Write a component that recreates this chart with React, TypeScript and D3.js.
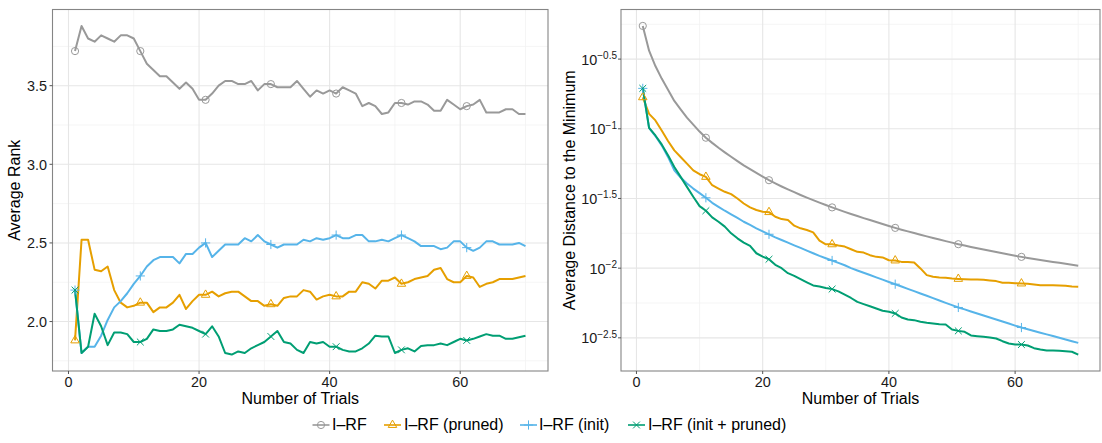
import React from "react";
import * as d3 from "d3";

// ---------- data ----------
const trials = Array.from({ length: 70 }, (_, i) => i + 1);
const markerTrials = [1, 11, 21, 31, 41, 51, 61];

const seriesNames = ["I–RF", "I–RF (pruned)", "I–RF (init)", "I–RF (init + pruned)"];
const seriesColors = ["#999999", "#E69F00", "#56B4E9", "#009E73"];
const seriesShapes = ["circle", "triangle", "plus", "cross"];

// Left panel: average rank
const rankIRF = [
  3.72, 3.88, 3.80, 3.78, 3.82, 3.80, 3.78, 3.82, 3.82, 3.80,
  3.72, 3.64, 3.60, 3.56, 3.56, 3.52, 3.48, 3.52, 3.48, 3.41,
  3.41, 3.45, 3.50, 3.53, 3.53, 3.51, 3.51, 3.53, 3.47, 3.51,
  3.51, 3.49, 3.49, 3.49, 3.53, 3.48, 3.43, 3.47, 3.45, 3.47,
  3.45, 3.49, 3.47, 3.45, 3.37, 3.39, 3.37, 3.32, 3.33, 3.39,
  3.39, 3.38, 3.40, 3.40, 3.38, 3.34, 3.34, 3.41, 3.38, 3.35,
  3.37, 3.38, 3.41, 3.33, 3.33, 3.33, 3.35, 3.35, 3.32, 3.32,
];
const rankPruned = [
  1.88, 2.52, 2.52, 2.33, 2.32, 2.35, 2.20, 2.12, 2.09, 2.10,
  2.12, 2.12, 2.06, 2.09, 2.09, 2.12, 2.17, 2.08, 2.13, 2.17,
  2.17, 2.19, 2.16, 2.18, 2.19, 2.19, 2.16, 2.13, 2.13, 2.10,
  2.11, 2.10, 2.15, 2.16, 2.16, 2.20, 2.19, 2.14, 2.16, 2.17,
  2.16, 2.16, 2.19, 2.19, 2.25, 2.24, 2.21, 2.26, 2.26, 2.28,
  2.24, 2.25, 2.27, 2.28, 2.29, 2.33, 2.34, 2.27, 2.25, 2.25,
  2.29, 2.28, 2.22, 2.24, 2.25, 2.27, 2.27, 2.27, 2.28, 2.29,
];
const rankInit = [
  2.20, 1.80, 1.84, 1.84, 1.91, 2.01, 2.09, 2.13, 2.18, 2.24,
  2.29, 2.35, 2.39, 2.41, 2.41, 2.41, 2.37, 2.43, 2.43, 2.47,
  2.50, 2.41, 2.45, 2.49, 2.49, 2.49, 2.53, 2.51, 2.55, 2.51,
  2.49, 2.47, 2.49, 2.49, 2.49, 2.52, 2.51, 2.53, 2.52, 2.53,
  2.55, 2.53, 2.53, 2.55, 2.55, 2.51, 2.51, 2.52, 2.51, 2.53,
  2.55, 2.53, 2.51, 2.48, 2.48, 2.48, 2.46, 2.47, 2.51, 2.51,
  2.47, 2.45, 2.47, 2.51, 2.51, 2.49, 2.49, 2.49, 2.50, 2.48,
];
const rankInitPruned = [
  2.20, 1.80, 1.84, 2.05, 1.97, 1.85, 1.93, 1.93, 1.92, 1.87,
  1.87, 1.89, 1.95, 1.94, 1.94, 1.95, 1.98, 1.97, 1.96, 1.94,
  1.92, 1.97, 1.905, 1.80, 1.79, 1.81, 1.80, 1.83, 1.85, 1.87,
  1.905, 1.94, 1.87, 1.86, 1.82, 1.80, 1.87, 1.86, 1.87, 1.84,
  1.84, 1.82, 1.81, 1.81, 1.83, 1.86, 1.91, 1.905, 1.905, 1.80,
  1.82, 1.83, 1.81, 1.845, 1.85, 1.85, 1.86, 1.85, 1.87, 1.89,
  1.88, 1.89, 1.905, 1.92, 1.91, 1.91, 1.89, 1.89, 1.90, 1.91,
];

// Right panel: log10 of the average distance to the minimum
const distLogIRF = [
  -0.262, -0.44, -0.55, -0.64, -0.72, -0.80, -0.86, -0.92, -0.97, -1.02,
  -1.064, -1.101, -1.136, -1.169, -1.201, -1.232, -1.262, -1.290, -1.317, -1.343,
  -1.369, -1.392, -1.414, -1.435, -1.455, -1.475, -1.494, -1.512, -1.530, -1.547,
  -1.564, -1.580, -1.596, -1.611, -1.626, -1.641, -1.655, -1.669, -1.683, -1.697,
  -1.711, -1.724, -1.736, -1.748, -1.760, -1.772, -1.784, -1.795, -1.806, -1.817,
  -1.828, -1.838, -1.848, -1.857, -1.866, -1.875, -1.884, -1.893, -1.902, -1.911,
  -1.919, -1.927, -1.934, -1.941, -1.948, -1.955, -1.962, -1.969, -1.976, -1.983,
];
const distLogPruned = [
  -0.774, -0.893, -0.940, -1.012, -1.088, -1.155, -1.202, -1.250, -1.298, -1.326,
  -1.345, -1.405, -1.429, -1.452, -1.469, -1.500, -1.536, -1.564, -1.583, -1.595,
  -1.598, -1.631, -1.648, -1.655, -1.695, -1.714, -1.726, -1.743, -1.802, -1.829,
  -1.829, -1.838, -1.845, -1.864, -1.883, -1.888, -1.907, -1.919, -1.923, -1.943,
  -1.945, -1.955, -1.955, -1.959, -2.002, -2.050, -2.062, -2.067, -2.069, -2.074,
  -2.077, -2.079, -2.081, -2.081, -2.084, -2.089, -2.093, -2.105, -2.105, -2.108,
  -2.110, -2.112, -2.117, -2.122, -2.122, -2.122, -2.124, -2.127, -2.132, -2.134,
];
const distLogInit = [
  -0.71, -0.993, -1.052, -1.119, -1.202, -1.298, -1.350, -1.393, -1.429, -1.462,
  -1.495, -1.531, -1.560, -1.588, -1.614, -1.640, -1.667, -1.690, -1.714, -1.736,
  -1.757, -1.779, -1.798, -1.817, -1.836, -1.855, -1.874, -1.893, -1.912, -1.929,
  -1.945, -1.962, -1.979, -2.000, -2.017, -2.033, -2.049, -2.066, -2.082, -2.099,
  -2.115, -2.132, -2.149, -2.165, -2.182, -2.198, -2.215, -2.232, -2.249, -2.265,
  -2.282, -2.296, -2.311, -2.325, -2.340, -2.354, -2.368, -2.383, -2.397, -2.412,
  -2.426, -2.438, -2.451, -2.463, -2.475, -2.487, -2.499, -2.512, -2.524, -2.536,
];
const distLogInitPruned = [
  -0.71, -0.993, -1.048, -1.112, -1.190, -1.274, -1.345, -1.417, -1.488, -1.555,
  -1.588, -1.636, -1.667, -1.702, -1.750, -1.786, -1.817, -1.840, -1.893, -1.917,
  -1.936, -1.976, -2.000, -2.036, -2.055, -2.079, -2.102, -2.124, -2.131, -2.143,
  -2.150, -2.167, -2.190, -2.214, -2.242, -2.258, -2.273, -2.289, -2.306, -2.313,
  -2.325, -2.354, -2.368, -2.373, -2.385, -2.392, -2.397, -2.402, -2.404, -2.440,
  -2.450, -2.457, -2.483, -2.488, -2.493, -2.498, -2.505, -2.524, -2.541, -2.548,
  -2.548, -2.555, -2.574, -2.584, -2.591, -2.591, -2.593, -2.596, -2.600, -2.620,
];

const trialTicks = [0, 20, 40, 60];
const trialMinorTicks = [10, 30, 50, 70];
const rankTicks = [2.0, 2.5, 3.0, 3.5];
const rankMinorTicks = [1.75, 2.25, 2.75, 3.25, 3.75];
const distTickExps = [-2.5, -2, -1.5, -1, -0.5];
const distMinorTickExps = [-2.25, -1.75, -1.25, -0.75, -0.25];

// ---------- styling ----------
const FONT = "'Liberation Sans', Arial, Helvetica, sans-serif";
const PANEL_TOP = 9.5;
const PANEL_BOTTOM = 371;
const BORDER = "#858585";
const GRID_MAJOR = "#e6e6e6";
const GRID_MINOR = "#f3f3f3";
const TEXT = "#1a1a1a";
const TICK_FS = 14.4;
const TITLE_FS = 16;

function Marker({ shape, x, y, color }: { shape: string; x: number; y: number; color: string }) {
  const sw = 1;
  if (shape === "circle") {
    return <circle cx={x} cy={y} r={3.6} fill="none" stroke={color} strokeWidth={sw} />;
  }
  if (shape === "triangle") {
    const r = 4.9;
    const pts = [
      [x, y - r],
      [x + r * 0.866, y + r * 0.5],
      [x - r * 0.866, y + r * 0.5],
    ];
    return <polygon points={pts.map((p) => p.join(",")).join(" ")} fill="none" stroke={color} strokeWidth={sw} />;
  }
  if (shape === "plus") {
    const a = 4.6;
    return (
      <g stroke={color} strokeWidth={sw}>
        <line x1={x - a} y1={y} x2={x + a} y2={y} />
        <line x1={x} y1={y - a} x2={x} y2={y + a} />
      </g>
    );
  }
  const a = 3.4;
  return (
    <g stroke={color} strokeWidth={sw}>
      <line x1={x - a} y1={y - a} x2={x + a} y2={y + a} />
      <line x1={x - a} y1={y + a} x2={x + a} y2={y - a} />
    </g>
  );
}

function expandedExtent(values: number[]): [number, number] {
  const [lo, hi] = d3.extent(values) as [number, number];
  const pad = (hi - lo) * 0.05;
  return [lo - pad, hi + pad];
}

const xDomain = expandedExtent(trials);

function Panel({
  left,
  right,
  series,
  yScale,
  yMajor,
  yMinor,
  yLabel,
  yTitle,
  yTitleX,
}: {
  left: number;
  right: number;
  series: number[][];
  yScale: (v: number) => number;
  yMajor: number[];
  yMinor: number[];
  yLabel: (v: number, y: number, x: number) => React.ReactNode;
  yTitle: string;
  yTitleX: number;
}) {
  const x = d3.scaleLinear().domain(xDomain).range([left, right]);
  const line = d3
    .line<number>()
    .x((_, i) => x(trials[i]))
    .y((d) => yScale(d));
  const midY = (PANEL_TOP + PANEL_BOTTOM) / 2;
  return (
    <g>
      <rect x={left} y={PANEL_TOP} width={right - left} height={PANEL_BOTTOM - PANEL_TOP} fill="#fff" />
      {yMinor.map((v) => (
        <line key={"ym" + v} x1={left} x2={right} y1={yScale(v)} y2={yScale(v)} stroke={GRID_MINOR} strokeWidth={0.8} />
      ))}
      {trialMinorTicks.map((v) => (
        <line key={"xm" + v} x1={x(v)} x2={x(v)} y1={PANEL_TOP} y2={PANEL_BOTTOM} stroke={GRID_MINOR} strokeWidth={0.8} />
      ))}
      {yMajor.map((v) => (
        <line key={"yM" + v} x1={left} x2={right} y1={yScale(v)} y2={yScale(v)} stroke={GRID_MAJOR} strokeWidth={1.1} />
      ))}
      {trialTicks.map((v) => (
        <line key={"xM" + v} x1={x(v)} x2={x(v)} y1={PANEL_TOP} y2={PANEL_BOTTOM} stroke={GRID_MAJOR} strokeWidth={1.1} />
      ))}
      <g clipPath={undefined}>
        {series.map((s, si) => (
          <path key={"l" + si} d={line(s) || ""} fill="none" stroke={seriesColors[si]} strokeWidth={2} strokeLinejoin="round" />
        ))}
        {series.map((s, si) =>
          markerTrials.map((t) => (
            <Marker key={"m" + si + "-" + t} shape={seriesShapes[si]} x={x(t)} y={yScale(s[t - 1])} color={seriesColors[si]} />
          ))
        )}
      </g>
      <rect x={left} y={PANEL_TOP} width={right - left} height={PANEL_BOTTOM - PANEL_TOP} fill="none" stroke={BORDER} strokeWidth={1.1} />
      {/* y ticks */}
      {yMajor.map((v) => (
        <g key={"yt" + v}>
          <line x1={left - 3} x2={left} y1={yScale(v)} y2={yScale(v)} stroke="#555" strokeWidth={1} />
          {yLabel(v, yScale(v), left - 5.5)}
        </g>
      ))}
      {/* x ticks */}
      {trialTicks.map((v) => (
        <g key={"xt" + v}>
          <line x1={x(v)} x2={x(v)} y1={PANEL_BOTTOM} y2={PANEL_BOTTOM + 3} stroke="#555" strokeWidth={1} />
          <text x={x(v)} y={387.2} textAnchor="middle" fontSize={TICK_FS} fill={TEXT} fontFamily={FONT}>
            {String(v)}
          </text>
        </g>
      ))}
      <text x={(left + right) / 2} y={404} textAnchor="middle" fontSize={TITLE_FS} fill="#000" fontFamily={FONT}>
        Number of Trials
      </text>
      <text
        x={yTitleX}
        y={midY}
        transform={`rotate(-90 ${yTitleX} ${midY})`}
        textAnchor="middle"
        fontSize={TITLE_FS}
        fill="#000"
        fontFamily={FONT}
      >
        {yTitle}
      </text>
    </g>
  );
}

export default function App() {
  const rankSeries = [rankIRF, rankPruned, rankInit, rankInitPruned];
  const distSeries = [distLogIRF, distLogPruned, distLogInit, distLogInitPruned].map((s) => s.map((e) => Math.pow(10, e)));

  const rankDomain = expandedExtent(rankSeries.flat());
  const yRank = d3.scaleLinear().domain(rankDomain).range([PANEL_BOTTOM, PANEL_TOP]);

  const logDomain = expandedExtent(
    [distLogIRF, distLogPruned, distLogInit, distLogInitPruned].flat()
  );
  const yDist = d3
    .scaleLog()
    .domain([Math.pow(10, logDomain[0]), Math.pow(10, logDomain[1])])
    .range([PANEL_BOTTOM, PANEL_TOP]);

  const legendKeyX = [321, 392.5, 528.5, 636.5];
  const legendTextX = [332, 404, 539, 648];
  const legendY = 425;

  return (
    <svg
      width={1102}
      height={443}
      style={{ position: "absolute", left: 0, top: 0, background: "#fff" }}
      fontFamily={FONT}
    >
      <rect x={0} y={0} width={1102} height={443} fill="#fff" />
      <Panel
        left={52.5}
        right={548}
        series={rankSeries}
        yScale={yRank}
        yMajor={rankTicks}
        yMinor={rankMinorTicks}
        yLabel={(v, y, x) => (
          <text x={x} y={y + 5.2} textAnchor="end" fontSize={TICK_FS} fill={TEXT} fontFamily={FONT}>
            {v.toFixed(1)}
          </text>
        )}
        yTitle="Average Rank"
        yTitleX={20}
      />
      <Panel
        left={621}
        right={1100}
        series={distSeries}
        yScale={yDist}
        yMajor={distTickExps.map((e) => Math.pow(10, e))}
        yMinor={distMinorTickExps.map((e) => Math.pow(10, e))}
        yLabel={(v, y, x) => {
          const e = Math.log10(v);
          const s = (Math.round(e * 10) / 10).toString().replace("-", "\u2212");
          return (
            <text x={x + 1.5} y={y + 5.5} textAnchor="end" fontSize={TICK_FS} fill={TEXT} fontFamily={FONT}>
              10
              <tspan dy={-5.5} fontSize={10}>
                {s}
              </tspan>
            </text>
          );
        }}
        yTitle="Average Distance to the Minimum"
        yTitleX={575}
      />
      {/* legend */}
      {seriesNames.map((name, i) => (
        <g key={"lg" + i}>
          <line
            x1={legendKeyX[i] - 8.5}
            x2={legendKeyX[i] + 8.5}
            y1={legendY}
            y2={legendY}
            stroke={seriesColors[i]}
            strokeWidth={1.6}
          />
          <Marker shape={seriesShapes[i]} x={legendKeyX[i]} y={legendY} color={seriesColors[i]} />
          <text x={legendTextX[i]} y={430} fontSize={TITLE_FS} fill="#000" fontFamily={FONT}>
            {name}
          </text>
        </g>
      ))}
    </svg>
  );
}
